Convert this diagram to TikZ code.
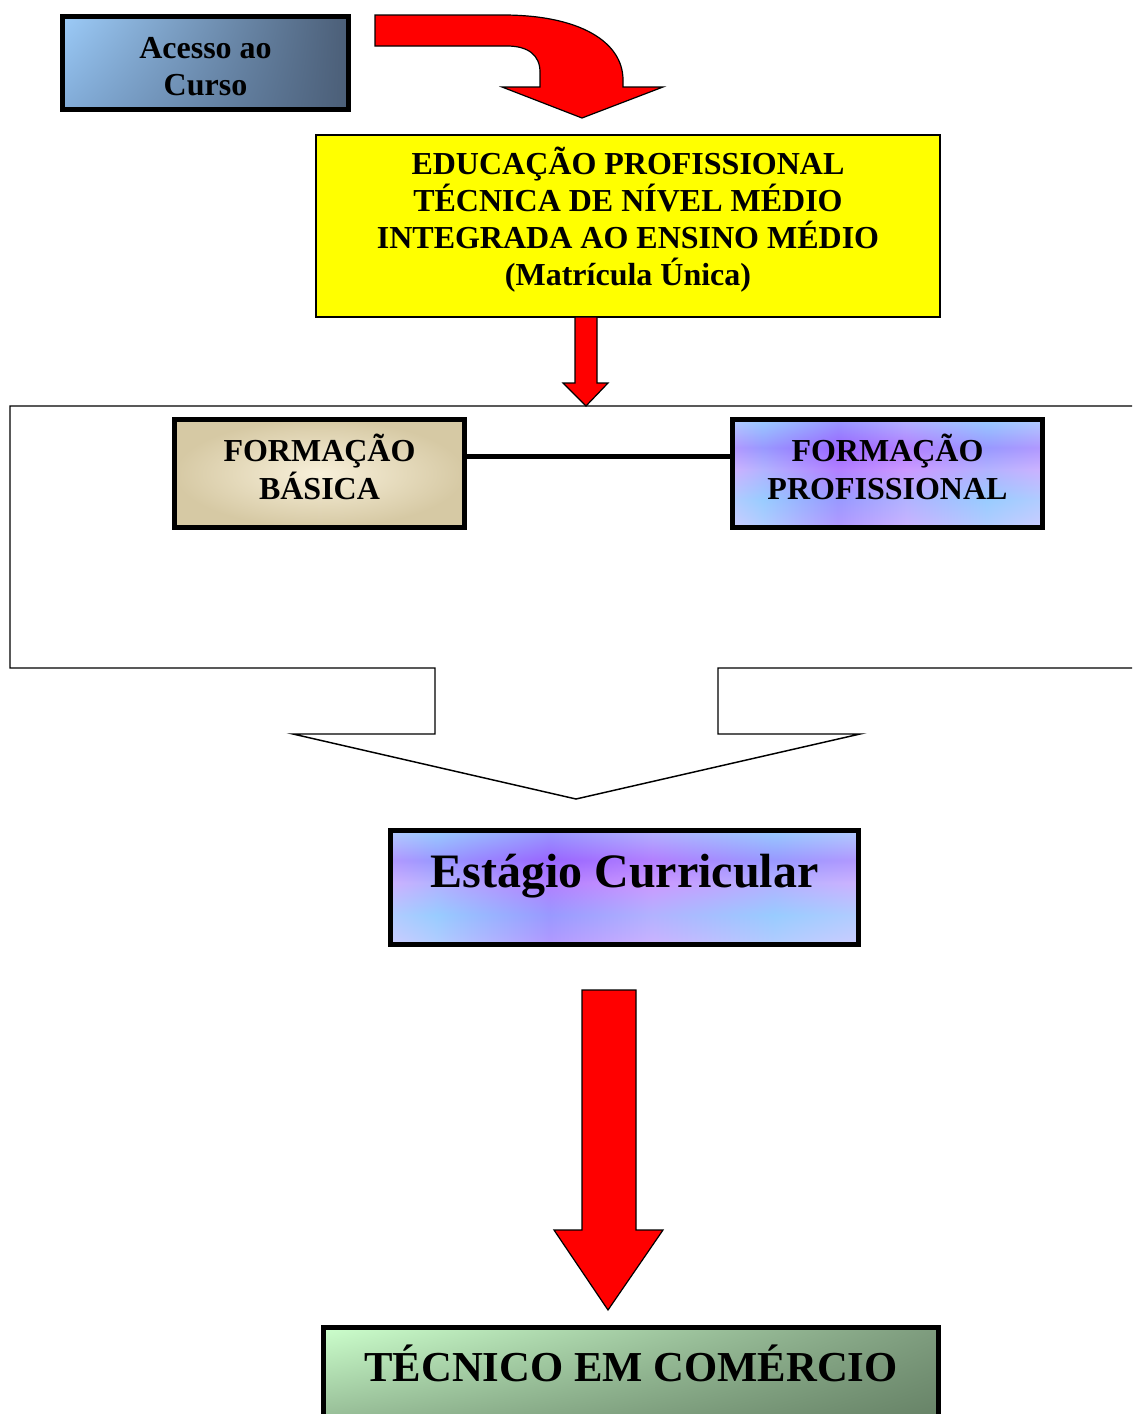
\documentclass[tikz,border=0pt]{standalone}
\usepackage{fontspec}
\setmainfont{Liberation Serif}
\definecolor{acLight}{HTML}{9CCBF8}
\definecolor{acMid}{HTML}{82ACD8}
\definecolor{acDark}{HTML}{4B5E77}
\definecolor{eduYellow}{HTML}{FFFF00}
\definecolor{bgLight}{HTML}{F8F0DA}
\definecolor{bgDark}{HTML}{D6C9A4}
\definecolor{fogBlue}{HTML}{99CCFF}
\definecolor{fogPurple}{HTML}{9966FF}
\definecolor{fogPink}{HTML}{CC99FF}
\definecolor{fogLav}{HTML}{CCCCFF}
\definecolor{tcLight}{HTML}{CCFFCC}
\definecolor{tcMidR}{HTML}{7E9C7E}
\definecolor{tcMidL}{HTML}{86A886}
\definecolor{tcDark}{HTML}{5F7A5F}
\pgfdeclarehorizontalshading{fogh}{100bp}{color(0bp)=(fogLav); color(25bp)=(fogLav); color(30bp)=(fogBlue); color(42bp)=(fogPurple); color(53bp)=(fogPink); color(66bp)=(fogBlue); color(75bp)=(fogLav); color(100bp)=(fogLav)}
\pgfdeclareverticalshading{fogv}{100bp}{color(0bp)=(fogLav); color(25bp)=(fogLav); color(38bp)=(fogBlue); color(52bp)=(fogPink); color(62bp)=(fogPurple); color(75bp)=(fogBlue); color(100bp)=(fogBlue)}
\newlength{\pxu}
\setlength{\pxu}{0.75pt}
\usetikzlibrary{calc,shadings}

\begin{document}
\begin{tikzpicture}[x=0.75pt,y=-0.75pt,
  boxtext/.style={font=\bfseries\fontsize{24}{27.75}\selectfont,align=center,inner sep=0pt},
  heavybox/.style={boxtext,draw=black,line width=3.75pt},
  fogfill/.style={shade,shading=fogh,path picture={\shade[shading=fogv,fill opacity=0.5] (path picture bounding box.south west) rectangle (path picture bounding box.north east);}},
  blockarrow/.style={draw=black,fill=red,line width=0.9pt,line join=miter},
  frame/.style={draw=black,line width=1.1pt},
  link/.style={draw=black,line width=3.75pt}]
  \useasboundingbox (0,0) rectangle (1132,1414);
  \clip (0,0) rectangle (1132,1414);
  % access to the course
  \node[heavybox,shade,upper left=acLight,upper right=acDark,lower left=acMid,lower right=acDark,minimum width=286\pxu,minimum height=93\pxu] (acesso) at (205.5,63) {\rule{0pt}{21pt}Acesso ao\\Curso};
  \draw[blockarrow] (375,15) -- (503,15) .. controls (580,15) and (623,42) .. (623,80) -- (623,87) -- (663,87) -- (582,118) -- (502,87) -- (540,87) -- (540,72) .. controls (540,55) and (528,46) .. (507,46) -- (375,46) -- cycle;
  % integrated course
  \node[boxtext,draw=black,line width=1pt,fill=eduYellow,minimum width=624\pxu,minimum height=182\pxu] (edu) at (628,226) {EDUCAÇÃO PROFISSIONAL\\TÉCNICA DE NÍVEL MÉDIO\\INTEGRADA AO ENSINO MÉDIO\\(Matrícula Única)\rule[-14pt]{0pt}{14pt}};
  \draw[blockarrow] (575,317) -- (597,317) -- (597,383) -- (608,383) -- (586,406) -- (563,383) -- (575,383) -- cycle;
  % frame with the two parts
  \draw[frame] (1150,406) -- (10,406) -- (10,668) -- (435,668) -- (435,734) -- (293,734) -- (576,799) -- (860,734) -- (718,734) -- (718,668) -- (1150,668);
  \node[heavybox,shade,inner color=bgLight,outer color=bgDark,minimum width=290\pxu,minimum height=108\pxu] (basica) at (319.5,473.5) {FORMAÇÃO\\[0.75pt]BÁSICA\rule[-10.5pt]{0pt}{10.5pt}};
  \node[heavybox,fogfill,minimum width=310\pxu,minimum height=108\pxu] (prof) at (887.5,473.5) {FORMAÇÃO\\[0.75pt]PROFISSIONAL\rule[-10.5pt]{0pt}{10.5pt}};
  \draw[link] ([yshift=12.4pt]basica.east) -- ([yshift=12.4pt]prof.west);
  % internship
  \node[heavybox,fogfill,font=\bfseries\fontsize{36}{40}\selectfont,text height=25pt,text depth=25pt,minimum width=468\pxu,minimum height=114\pxu] (estagio) at (624.5,887.5) {Estágio Curricular};
  \draw[blockarrow] (582,990) -- (636,990) -- (636,1230) -- (663,1230) -- (608,1310) -- (554,1230) -- (582,1230) -- cycle;
  % result
  \node[heavybox,shade,upper left=tcLight,upper right=tcMidR,lower left=tcMidL,lower right=tcDark,font=\bfseries\fontsize{32}{36}\selectfont,text height=20pt,text depth=28.5pt,minimum width=615\pxu,minimum height=119.5\pxu] (tecnico) at (631,1387) {TÉCNICO EM COMÉRCIO};
\end{tikzpicture}
\end{document}
